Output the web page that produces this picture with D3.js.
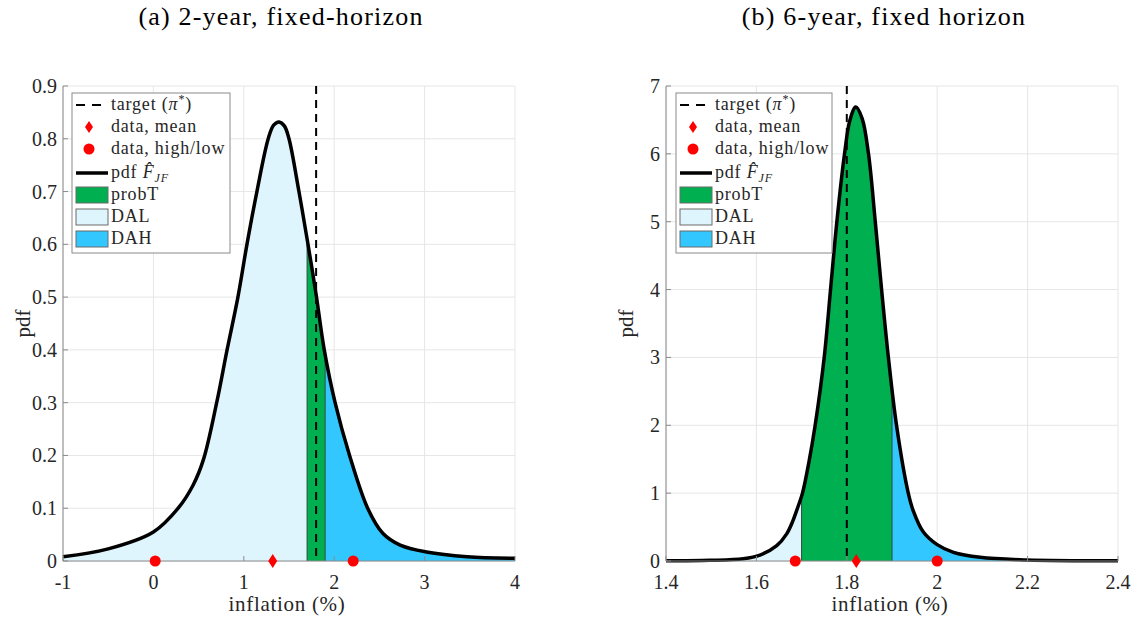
<!DOCTYPE html>
<html>
<head>
<meta charset="utf-8">
<script src="https://cdn.jsdelivr.net/npm/d3@7"></script>
<style>
  body { margin: 0; background: #fff; }
</style>
</head>
<body>
<div class="render"></div>
<script>
// panel (a): 2-year fixed horizon, pdf
var pdfX_a = [-1, -0.5, 0, 0.274, 0.44, 0.555, 0.70, 0.815, 0.935, 1.035, 1.145, 1.27, 1.33, 1.39, 1.45, 1.50, 1.61, 1.71, 1.80, 1.89, 2.01, 2.17, 2.37, 2.54, 2.73, 3.02, 3.47, 4]
var pdfY_a = [0.008, 0.023, 0.055, 0.1, 0.144, 0.193, 0.3, 0.4, 0.5, 0.6, 0.7, 0.8, 0.826, 0.832, 0.824, 0.8, 0.7, 0.6, 0.505, 0.4, 0.3, 0.2, 0.1, 0.052, 0.03, 0.017, 0.008, 0.005]
var target_a = 1.8
var band_a = [1.7, 1.9]
var dataMean_a = 1.32
var dataHighLow_a = [0.02, 2.21]
var xTicks_a = [-1, 0, 1, 2, 3, 4]
var yTicks_a = [0, 0.1, 0.2, 0.3, 0.4, 0.5, 0.6, 0.7, 0.8, 0.9]

// panel (b): 6-year fixed horizon
var pdfX_b = [1.4, 1.497, 1.571, 1.608, 1.645, 1.667, 1.680, 1.692, 1.702, 1.716, 1.730, 1.750, 1.764, 1.778, 1.795, 1.807, 1.820, 1.834, 1.848, 1.863, 1.877, 1.892, 1.910, 1.936, 1.947, 1.969, 1.999, 2.036, 2.095, 2.198, 2.4]
var pdfY_b = [0.003, 0.01, 0.034, 0.088, 0.226, 0.40, 0.58, 0.80, 1.0, 1.45, 2.0, 3.0, 4.0, 5.0, 6.0, 6.5, 6.69, 6.52, 6.0, 5.0, 4.0, 3.0, 2.0, 1.0, 0.74, 0.43, 0.245, 0.128, 0.054, 0.015, 0.003]
var target_b = 1.8
var band_b = [1.7, 1.9]
var dataMean_b = 1.821
var dataHighLow_b = [1.686, 2.0]
var xTicks_b = [1.4, 1.6, 1.8, 2, 2.2, 2.4]
var yTicks_b = [0, 1, 2, 3, 4, 5, 6, 7]

var legendLabels = ["target", "data, mean", "data, high/low", "pdf", "probT", "DAL", "DAH"]

var colProbT = "#00b050", colDAL = "#dff5fe", colDAH = "#33c7ff", colRed = "#ff0000"
var serif = "'Liberation Serif', 'Times New Roman', Tinos, 'DejaVu Serif', serif"

var W = 1142, H = 620
var svg = d3.select(".render").append("svg").attr("width", W).attr("height", H)
    .attr("font-family", serif)

var plotTop = 86, plotBottom = 561

function drawPanel(id, left, right, xs_dom, ys_dom, px, py, target, band, mean, hl, xTicks, yTicks, title, legendX, legendW) {
    var x = d3.scaleLinear().domain(xs_dom).range([left, right])
    var y = d3.scaleLinear().domain(ys_dom).range([plotBottom, plotTop])
    var pts = px.map(function(d, i) { return [d, py[i]] })
    var g = svg.append("g")

    // grid
    g.selectAll("line.gx").data(xTicks).enter().append("line")
        .attr("x1", function(d) { return x(d) }).attr("x2", function(d) { return x(d) })
        .attr("y1", plotTop).attr("y2", plotBottom)
        .attr("stroke", "#e6e6e6").attr("stroke-width", 1)
    g.selectAll("line.gy").data(yTicks).enter().append("line")
        .attr("y1", function(d) { return y(d) }).attr("y2", function(d) { return y(d) })
        .attr("x1", left).attr("x2", right)
        .attr("stroke", "#e6e6e6").attr("stroke-width", 1)

    var curve = d3.curveCatmullRom.alpha(0.5)
    var area = d3.area().x(function(d) { return x(d[0]) }).y0(y(0)).y1(function(d) { return y(d[1]) }).curve(curve)
    var line = d3.line().x(function(d) { return x(d[0]) }).y(function(d) { return y(d[1]) }).curve(curve)

    var regions = [
        { lo: xs_dom[0], hi: band[0], fill: colDAL },
        { lo: band[0], hi: band[1], fill: colProbT },
        { lo: band[1], hi: xs_dom[1], fill: colDAH }
    ]
    var defs = svg.append("defs")
    regions.forEach(function(r, i) {
        defs.append("clipPath").attr("id", id + "clip" + i).append("rect")
            .attr("x", x(r.lo)).attr("width", x(r.hi) - x(r.lo))
            .attr("y", plotTop).attr("height", plotBottom - plotTop)
        g.append("path").datum(pts).attr("d", area).attr("fill", r.fill)
            .attr("clip-path", "url(#" + id + "clip" + i + ")")
    })
    // edges of the patches, kept inside the area under the curve
    defs.append("clipPath").attr("id", id + "under").append("path").datum(pts).attr("d", area)
    g.selectAll("line.edge").data(band).enter().append("line")
        .attr("x1", function(d) { return x(d) }).attr("x2", function(d) { return x(d) })
        .attr("y1", plotTop).attr("y2", plotBottom)
        .attr("stroke", "#2a4a3a").attr("stroke-width", 1)
        .attr("clip-path", "url(#" + id + "under)")

    // target
    g.append("line").attr("x1", x(target)).attr("x2", x(target)).attr("y1", plotTop).attr("y2", plotBottom)
        .attr("stroke", "#000").attr("stroke-width", 2).attr("stroke-dasharray", "8,6")

    g.append("path").datum(pts).attr("d", line).attr("fill", "none")
        .attr("stroke", "#000").attr("stroke-width", 3.5).attr("stroke-linejoin", "round")

    // axes
    g.append("line").attr("x1", left).attr("x2", left).attr("y1", plotTop).attr("y2", plotBottom).attr("stroke", "#8a8a8a")
    g.append("line").attr("x1", left).attr("x2", right).attr("y1", plotBottom).attr("y2", plotBottom).attr("stroke", "#8a8a8a")
    g.selectAll("line.tx").data(xTicks).enter().append("line")
        .attr("x1", function(d) { return x(d) }).attr("x2", function(d) { return x(d) })
        .attr("y1", plotBottom).attr("y2", plotBottom - 5).attr("stroke", "#8a8a8a")
    g.selectAll("line.ty").data(yTicks).enter().append("line")
        .attr("y1", function(d) { return y(d) }).attr("y2", function(d) { return y(d) })
        .attr("x1", left).attr("x2", left + 5).attr("stroke", "#8a8a8a")

    g.selectAll("text.xt").data(xTicks).enter().append("text")
        .attr("x", function(d) { return x(d) }).attr("y", plotBottom + 28)
        .attr("text-anchor", "middle").attr("font-size", 20).attr("fill", "#262626")
        .text(function(d) { return String(d) })
    g.selectAll("text.yt").data(yTicks).enter().append("text")
        .attr("x", left - 6).attr("y", function(d) { return y(d) + 7 })
        .attr("text-anchor", "end").attr("font-size", 20).attr("fill", "#262626")
        .text(function(d) { return String(d) })

    g.append("text").attr("x", (left + right) / 2 - 2).attr("y", 611).attr("text-anchor", "middle")
        .attr("font-size", 21).attr("letter-spacing", 0.7).attr("fill", "#262626").text("inflation (%)")
    g.append("text").attr("transform", "translate(" + (left - 33) + "," + ((plotTop + plotBottom) / 2) + ") rotate(-90)")
        .attr("text-anchor", "middle").attr("font-size", 21).attr("fill", "#262626").text("pdf")
    g.append("text").attr("x", (left + right) / 2 - 8).attr("y", 25).attr("text-anchor", "middle")
        .attr("font-size", 26).attr("letter-spacing", 1.2).attr("fill", "#000").text(title)

    // data markers
    g.selectAll("circle.hl").data(hl).enter().append("circle")
        .attr("cx", function(d) { return x(d) }).attr("cy", y(0)).attr("r", 5.5).attr("fill", colRed)
    g.append("path").attr("d", "M0,-7L4.5,0L0,7L-4.5,0Z")
        .attr("transform", "translate(" + x(mean) + "," + y(0) + ")").attr("fill", colRed)

    // legend
    var lg = g.append("g").attr("transform", "translate(" + legendX + ",93)")
    lg.append("rect").attr("width", legendW).attr("height", 160).attr("fill", "#fff").attr("stroke", "#8a8a8a")
    var rowY = [12, 34, 56, 80, 102, 124, 146]
    var tx = 39
    lg.append("line").attr("x1", 4).attr("x2", 36).attr("y1", rowY[0]).attr("y2", rowY[0])
        .attr("stroke", "#000").attr("stroke-width", 2).attr("stroke-dasharray", "9,7")
    lg.append("path").attr("d", "M0,-6L4,0L0,6L-4,0Z").attr("transform", "translate(17," + rowY[1] + ")").attr("fill", colRed)
    lg.append("circle").attr("cx", 17).attr("cy", rowY[2]).attr("r", 5.5).attr("fill", colRed)
    lg.append("line").attr("x1", 4).attr("x2", 36).attr("y1", rowY[3]).attr("y2", rowY[3])
        .attr("stroke", "#000").attr("stroke-width", 3.5)
    ;[colProbT, colDAL, colDAH].forEach(function(c, i) {
        lg.append("rect").attr("x", 4).attr("y", rowY[4 + i] - 8).attr("width", 32).attr("height", 16)
            .attr("fill", c).attr("stroke", "#6b6b6b").attr("stroke-width", 1)
    })
    var fs = 18, ls = 0.8
    function legText(k) {
        return lg.append("text").attr("x", tx).attr("y", rowY[k] + 5).attr("font-size", fs)
            .attr("letter-spacing", ls).attr("fill", "#262626")
    }
    var t0 = legText(0)
    t0.append("tspan").text(legendLabels[0] + " (")
    t0.append("tspan").attr("font-style", "italic").text("\u03c0")
    t0.append("tspan").attr("dy", -7).attr("font-size", 12).text("*")
    t0.append("tspan").attr("dy", 7).text(")")
    legText(1).text(legendLabels[1])
    legText(2).text(legendLabels[2])
    var t3 = legText(3)
    t3.append("tspan").text(legendLabels[3] + " ")
    t3.append("tspan").attr("font-style", "italic").text("F\u0302")
    t3.append("tspan").attr("font-style", "italic").attr("font-size", 12).attr("dy", 4).text("JF")
    for (var k = 4; k < 7; k++) legText(k).text(legendLabels[k])
}

drawPanel("a", 63, 515, [-1, 4], [0, 0.9], pdfX_a, pdfY_a, target_a, band_a, dataMean_a, dataHighLow_a,
    xTicks_a, yTicks_a, "(a) 2-year, fixed-horizon", 72, 158)
drawPanel("b", 666, 1118, [1.4, 2.4], [0, 7], pdfX_b, pdfY_b, target_b, band_b, dataMean_b, dataHighLow_b,
    xTicks_b, yTicks_b, "(b) 6-year, fixed horizon", 676, 156)
</script>
</body>
</html>
